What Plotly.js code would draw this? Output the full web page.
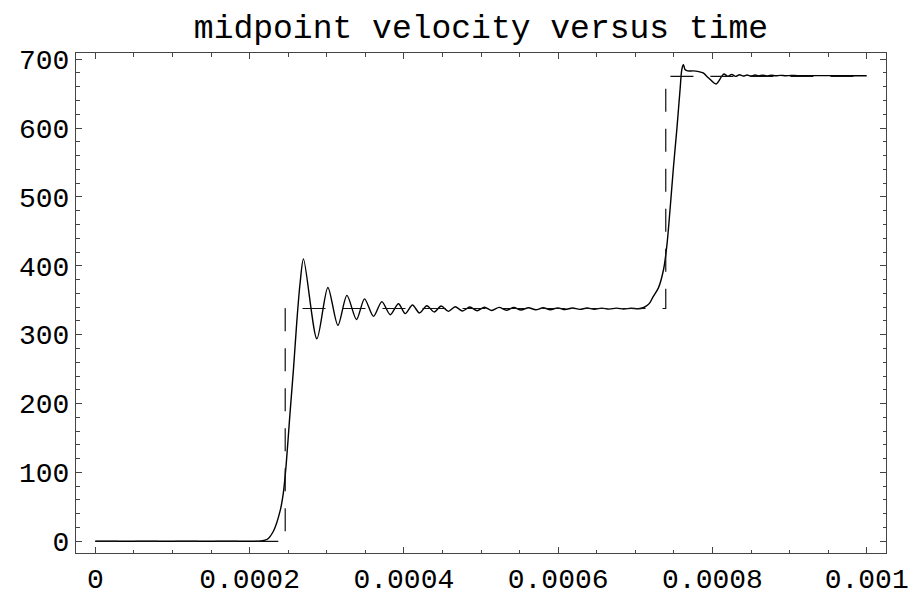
<!DOCTYPE html>
<html>
<head>
<meta charset="utf-8">
<script src="https://cdn.plot.ly/plotly-3.0.1.min.js"></script>
<style>html,body{margin:0;padding:0;background:#fff;}#chart{width:920px;height:596px;}</style>
</head>
<body>
<div id="chart"></div>
<script>
// Numerical midpoint velocity (solid curve)
const timeNum = [
  0, 0.0002, 0.000215, 0.000223, 0.000231, 0.00024, 0.000244, 0.0002475, 0.000252, 0.0002569,
  0.0002613, 0.0002655, 0.0002699, 0.0002873, 0.0003015, 0.0003145, 0.0003262, 0.0003386, 0.000349, 0.0003606,
  0.0003715, 0.0003823, 0.000393, 0.0004017, 0.0004112, 0.0004202, 0.0004298, 0.0004393, 0.0004484, 0.0004578,
  0.0004665, 0.000476, 0.0004855, 0.000495, 0.0005045, 0.000514, 0.0005235, 0.000533, 0.0005425, 0.000552,
  0.0005615, 0.000571, 0.0005805, 0.00059, 0.0005995, 0.000609, 0.0006185, 0.000628, 0.0006375, 0.000647,
  0.0006565, 0.000666, 0.0006755, 0.000685, 0.0006945, 0.000704, 0.000711, 0.000716, 0.0007192, 0.000723,
  0.00073, 0.0007367, 0.000741, 0.0007453, 0.0007496, 0.000754, 0.0007582, 0.0007603, 0.0007624, 0.0007645,
  0.000768, 0.000775, 0.000782, 0.000788, 0.0007948, 0.0008047, 0.000812, 0.000815, 0.00082, 0.000825,
  0.00083, 0.000835, 0.00084, 0.000845, 0.00085, 0.000855, 0.00086, 0.000865, 0.00087, 0.000876,
  0.000882, 0.000888, 0.000895, 0.000902, 0.00091, 0.00092, 0.00094, 0.00096, 0.00098, 0.001
];
const velocityNum = [
  0, 0, 0.5, 3, 15, 46, 72, 112, 180, 250,
  320, 375, 410, 294, 368.6, 313.5, 357, 322, 352, 326.6,
  348, 329, 345, 330.6, 343, 331.5, 342, 333, 341.6, 333.8,
  340.5, 334.4, 340.2, 334.8, 339.9, 335.2, 339.6, 335.5, 339.4, 335.8,
  339.2, 336.1, 339.0, 336.3, 338.9, 336.5, 338.8, 336.7, 338.7, 336.9,
  338.6, 337.1, 338.5, 337.3, 338.4, 337.6, 339.5, 343, 347, 355,
  368, 395, 430, 485, 545, 600, 658, 685, 692, 685,
  683, 683, 682, 680, 673, 664, 675, 678.5, 675, 678,
  675, 677.5, 675.5, 677, 675.5, 677, 675.7, 676.8, 675.8, 676.6,
  675.9, 676.5, 676, 676.4, 676.1, 676.2, 676.1, 676.1, 676, 676
];
// Exact (step) solution, dashed
const timeExact = [0, 0.0002462, 0.0002462, 0.0007395, 0.0007395, 0.001];
const velocityExact = [0, 0, 338, 338, 675, 675];

const xTickVals = [0, 0.0002, 0.0004, 0.0006, 0.0008, 0.001];
const xTickText = ['0', '0.0002', '0.0004', '0.0006', '0.0008', '0.001'];
const yTickVals = [0, 100, 200, 300, 400, 500, 600, 700];
const yTickText = ['0', '100', '200', '300', '400', '500', '600', '700'];

const mono = '"Courier New", "Liberation Mono", monospace';
const frameColor = '#444';

const traces = [
  {x: timeNum, y: velocityNum, type: 'scatter', mode: 'lines',
   line: {color: '#000', width: 1.4, shape: 'spline', smoothing: 0.8}, hoverinfo: 'skip'},
  {x: timeExact, y: velocityExact, type: 'scatter', mode: 'lines',
   line: {color: '#111', width: 1.2, dash: '23px,17px'}, hoverinfo: 'skip'}
];

const layout = {
  width: 920, height: 596,
  margin: {l: 76, r: 34, t: 53, b: 43, pad: 0},
  paper_bgcolor: '#fff', plot_bgcolor: '#fff',
  showlegend: false,
  title: {text: 'midpoint velocity versus time', font: {family: mono, size: 33, color: '#000'},
          x: 0.5, xref: 'paper', xanchor: 'center', y: 0.955, yref: 'container', yanchor: 'middle'},
  xaxis: {
    range: [-0.000025, 0.001025], tickmode: 'array', tickvals: xTickVals, ticktext: xTickText,
    ticks: 'inside', ticklen: 6, tickwidth: 1, tickcolor: frameColor,
    showline: true, linecolor: frameColor, linewidth: 1, mirror: 'ticks',
    showgrid: false, zeroline: false,
    tickfont: {family: mono, size: 28, color: '#000'},
    minor: {dtick: 0.00005, tick0: 0, ticks: 'inside', ticklen: 3.5, tickcolor: frameColor, showgrid: false}
  },
  yaxis: {
    range: [-17, 709], tickmode: 'array', tickvals: yTickVals, ticktext: yTickText,
    ticks: 'inside', ticklen: 6, tickwidth: 1, tickcolor: frameColor,
    showline: true, linecolor: frameColor, linewidth: 1, mirror: 'ticks',
    showgrid: false, zeroline: false,
    tickfont: {family: mono, size: 28, color: '#000'},
    minor: {dtick: 20, tick0: 0, ticks: 'inside', ticklen: 3.5, tickcolor: frameColor, showgrid: false}
  }
};

Plotly.newPlot('chart', traces, layout, {staticPlot: true, displayModeBar: false});
</script>
</body>
</html>
